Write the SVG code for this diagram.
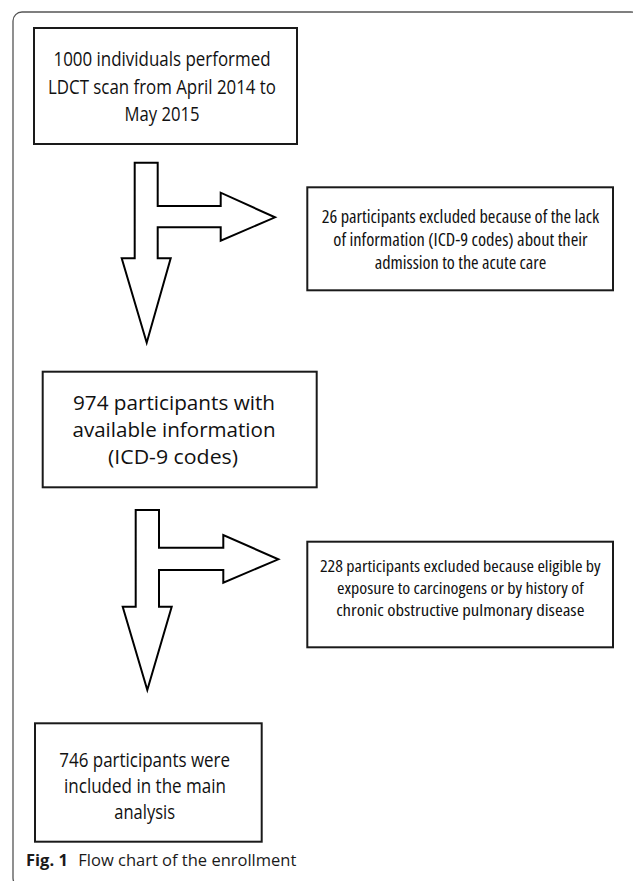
<svg xmlns="http://www.w3.org/2000/svg" width="633" height="881" viewBox="0 0 633 881">
<style>
.frame{fill:none;stroke:#555;stroke-width:1.3}
.box{fill:#fff;stroke:#1a1a1a;stroke-width:2}
.arrow{fill:#fff;stroke:#000;stroke-width:2;stroke-linejoin:miter}
.t{font-family:"Open Sans","Noto Sans",sans-serif;font-size:20px;fill:#111;text-anchor:middle}
.c{font-family:"Open Sans","Noto Sans",sans-serif;font-stretch:75%;font-size:17.5px;fill:#111;text-anchor:middle}
.c2{font-size:16px}
.cap{font-family:"Open Sans","Noto Sans",sans-serif;font-size:16.5px;fill:#1a1a1a}
</style>
<rect class="frame" x="13" y="12" width="627" height="875" rx="9"/>
<g id="connectors">
<polygon class="arrow" points="134.7,162.7 157.7,162.7 157.7,206 220.7,206 220.7,192.7 275,217.3 220.7,240.7 220.7,227.3 157.7,227.3 157.7,258.3 170.7,258.3 146.7,342.7 121.7,258.3 134.7,258.3"/>
<polygon class="arrow" points="135.7,510 159,510 159,547.7 223.3,547.7 223.3,535 278.3,559.3 223.3,582.7 223.3,570 159,570 159,606.7 171.7,606.7 147.3,690 122.7,606.7 135.7,606.7"/>
</g>
<g id="n1">
<rect class="box" x="34" y="28" width="263" height="116"/>
<text class="t" x="162" y="65.7" textLength="217" lengthAdjust="spacingAndGlyphs">1000 individuals performed</text>
<text class="t" x="162" y="94" textLength="228" lengthAdjust="spacingAndGlyphs">LDCT scan from April 2014 to</text>
<text class="t" x="162" y="120.7" textLength="75" lengthAdjust="spacingAndGlyphs">May 2015</text>
</g>
<g id="n2">
<rect class="box" x="307.3" y="187.3" width="305.7" height="103"/>
<text class="c" x="460.5" y="223" textLength="277.6" lengthAdjust="spacingAndGlyphs">26 participants excluded because of the lack</text>
<text class="c" x="460.5" y="246" textLength="254.3" lengthAdjust="spacingAndGlyphs">of information (ICD-9 codes) about their</text>
<text class="c" x="460.5" y="269" textLength="171.7" lengthAdjust="spacingAndGlyphs">admission to the acute care</text>
</g>
<g id="n3">
<rect class="box" x="42.7" y="371.7" width="274" height="115.6"/>
<text class="t" x="174" y="409.5" textLength="202" lengthAdjust="spacingAndGlyphs">974 participants with</text>
<text class="t" x="174" y="437" textLength="203" lengthAdjust="spacingAndGlyphs">available information</text>
<text class="t" x="173" y="463.5" textLength="130" lengthAdjust="spacingAndGlyphs">(ICD-9 codes)</text>
</g>
<g id="n4">
<rect class="box" x="307.3" y="541.7" width="305.7" height="105.6"/>
<text class="c c2" x="460.3" y="572" textLength="280.7" lengthAdjust="spacingAndGlyphs">228 participants excluded because eligible by</text>
<text class="c c2" x="460.3" y="594" textLength="246.7" lengthAdjust="spacingAndGlyphs">exposure to carcinogens or by history of</text>
<text class="c c2" x="460.3" y="616" textLength="248.3" lengthAdjust="spacingAndGlyphs">chronic obstructive pulmonary disease</text>
</g>
<g id="n5">
<rect class="box" x="35" y="723.3" width="226.7" height="118.4"/>
<text class="t" x="144.7" y="766.7" textLength="170.7" lengthAdjust="spacingAndGlyphs">746 participants were</text>
<text class="t" x="145" y="793.3" textLength="162" lengthAdjust="spacingAndGlyphs">included in the main</text>
<text class="t" x="144.7" y="819" textLength="60.7" lengthAdjust="spacingAndGlyphs">analysis</text>
</g>
<g id="caption">
<text class="cap" x="26" y="866"><tspan font-weight="bold">Fig. 1</tspan><tspan x="78.3">Flow chart of the enrollment</tspan></text>
</g>
</svg>
